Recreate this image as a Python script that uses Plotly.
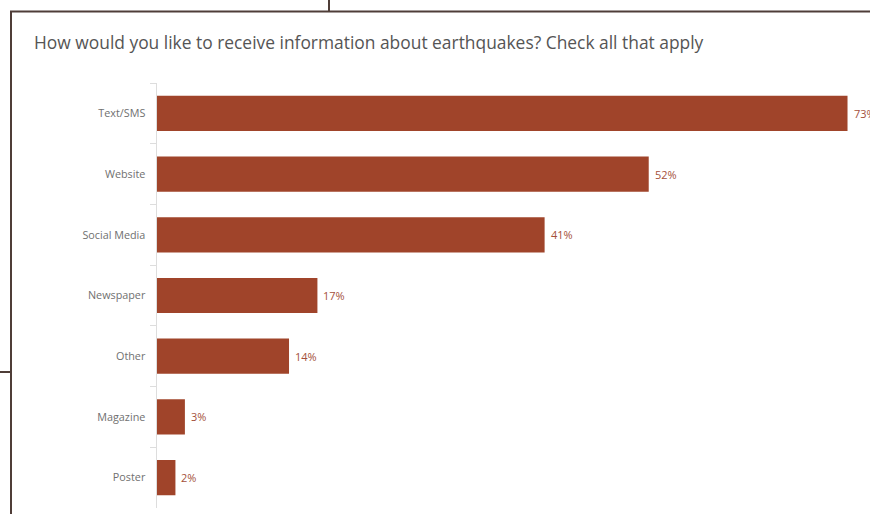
import plotly.graph_objects as go

categories = ["Text/SMS", "Website", "Social Media", "Newspaper", "Other", "Magazine", "Poster"]
values = [73, 52, 41, 17, 14, 3, 2]
labels = [f"{v}%" for v in values]
title_text = "How would you like to receive information about earthquakes? Check all that apply"

W, H = 870, 514
BAR = "#A0442A"
FRAME = "#4f3d38"

fig = go.Figure(go.Bar(
    y=categories, x=values, orientation="h",
    marker=dict(color=BAR, line=dict(width=0)),
    width=0.58,
    hoverinfo="skip",
))

def px(x):
    return x / W

def py(y):
    return 1 - y / H

annotations = [dict(text=title_text, xref="paper", yref="paper",
                    x=px(32), y=py(28), xanchor="left", yanchor="top",
                    showarrow=False,
                    font=dict(family="Open Sans", size=17.4, color="#555555"))]
for c, v, t in zip(categories, values, labels):
    annotations.append(dict(x=v, y=c, xref="x", yref="y", text=t, showarrow=False,
                            xanchor="left", yanchor="middle", xshift=4,
                            font=dict(family="Open Sans", size=11, color="#A4503A")))

fig.update_layout(
    width=W, height=H, autosize=False,
    margin=dict(l=0, r=0, t=0, b=0),
    paper_bgcolor="white", plot_bgcolor="white",
    showlegend=False,
    xaxis=dict(domain=[px(156.5), 1], range=[0, (W - 156.5) / 9.466],
               showgrid=False, zeroline=False, showticklabels=False,
               showline=False, ticks=""),
    yaxis=dict(domain=[py(508), py(83)], autorange="reversed",
               type="category", showgrid=False, zeroline=False,
               showline=True, linecolor="#dddddd", linewidth=1,
               ticks="outside", tickson="boundaries", ticklen=6,
               tickcolor="#dddddd", tickwidth=1,
               tickfont=dict(family="Open Sans", size=10.8, color="#707070"),
               ticklabelstandoff=8),
    annotations=annotations,
    shapes=[
        dict(type="line", xref="paper", yref="paper", x0=px(10), x1=1, y0=py(11.5), y1=py(11.5),
             line=dict(color=FRAME, width=2)),
        dict(type="line", xref="paper", yref="paper", x0=px(11), x1=px(11), y0=py(11), y1=0,
             line=dict(color=FRAME, width=2)),
        dict(type="line", xref="paper", yref="paper", x0=px(329), x1=px(329), y0=1, y1=py(11),
             line=dict(color=FRAME, width=2)),
        dict(type="line", xref="paper", yref="paper", x0=0, x1=px(10), y0=py(372), y1=py(372),
             line=dict(color=FRAME, width=2)),
    ],
)

fig.write_html("out.html")
